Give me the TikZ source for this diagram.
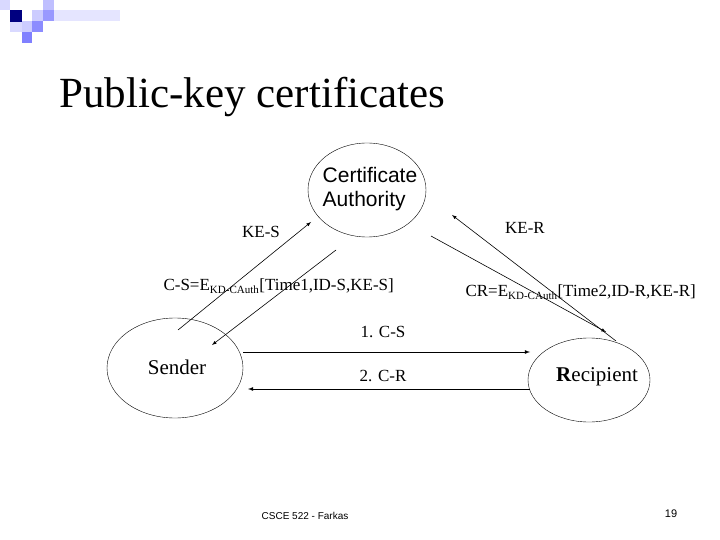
\documentclass[tikz,border=0pt]{standalone}
\usepackage{fontspec}
\usetikzlibrary{shapes.geometric}
\setmainfont{Liberation Serif}
\newfontfamily\arialf{Liberation Sans}
\begin{document}
\begin{tikzpicture}[x=1pt,y=-1pt,
  ell/.style={draw,ellipse,inner sep=0pt},
  arr/.style={-latex,semithick},
  lbl/.style={font=\fontsize{17}{19}\selectfont}]
\useasboundingbox (0,0) rectangle (720,540);
\fill[blue!15] (0,0) rectangle (10,10);
\fill[blue!20] (32,10) rectangle (43,21);
\fill[blue!25] (43,0) rectangle (54,10);
\fill[blue!40] (43,10) rectangle (54,21);
\fill[blue!20] (22,21) rectangle (32,32);
\fill[blue!45] (32,21) rectangle (43,32);
\fill[blue!50] (22,32) rectangle (32,43);
\fill[blue!15] (10,21) rectangle (22,32);
\fill[blue!10] (54,10) rectangle (120,21);
\fill[blue!50!black] (10,10) rectangle (22,22);
\node[anchor=west,font=\fontsize{43}{46}\selectfont] (title) at (56,97) {Public-key certificates};
\node[ell,minimum width=118,minimum height=94] (ca) at (367,190) {};
\node[align=left,font=\fontsize{21}{24}\arialf] (cat) at (370,189) {Certificate\\Authority};
\node[ell,minimum width=136,minimum height=100] (s) at (175,368) {};
\node[font=\fontsize{21}{24}\selectfont] (st) at (177,367) {Sender};
\node[ell,minimum width=122,minimum height=84] (r) at (589,380) {};
\node[font=\fontsize{21}{24}\selectfont] (rt) at (597,377) {\textbf{R}ecipient};
\coordinate (a1) at (178,330); \coordinate (a2) at (311,222);
\coordinate (b1) at (336,250); \coordinate (b2) at (212,345);
\coordinate (c1) at (431,236); \coordinate (c2) at (606,332);
\coordinate (d1) at (616,341); \coordinate (d2) at (452,215);
\coordinate (e1) at (243,352); \coordinate (e2) at (530,352);
\coordinate (f1) at (530,389); \coordinate (f2) at (248,389);
\draw[arr] (a1) -- (a2);
\draw[arr] (b1) -- (b2);
\draw[arr] (c1) -- (c2);
\draw[arr] (d1) -- (d2);
\draw[arr,thick] (e1) -- (e2);
\draw[arr,thick] (f1) -- (f2);
\node[lbl] (l1) at (261,232) {KE-S};
\node[lbl] (l2) at (525,228) {KE-R};
\node[lbl,anchor=west] (l3) at (160,286) {C-S=E\textsubscript{\fontsize{11}{11}\selectfont KD-CAuth}[Time1,ID-S,KE-S]};
\node[lbl,anchor=west] (l4) at (462,292) {CR=E\textsubscript{\fontsize{11}{11}\selectfont KD-CAuth}[Time2,ID-R,KE-R]};
\node[lbl] (l5) at (383,332) {1. C-S};
\node[lbl] (l6) at (383,376) {2. C-R};
\node[font=\fontsize{10}{12}\arialf] (ft) at (305,516) {CSCE 522 - Farkas};
\node[font=\fontsize{11}{12}\arialf] (pg) at (671,514) {19};
\end{tikzpicture}
\end{document}
